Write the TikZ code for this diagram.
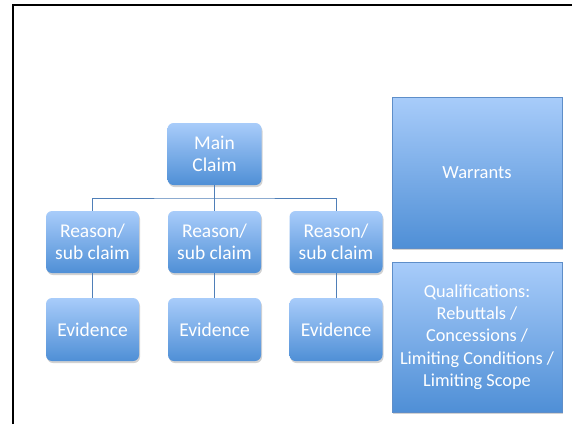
\documentclass[tikz,border=0pt]{standalone}
\usepackage{fontspec}
\setmainfont{Carlito}
\usetikzlibrary{shadows,calc}
\definecolor{boxtop}{HTML}{A8CCFA}
\definecolor{boxbot}{HTML}{4F8FD6}
\definecolor{boxedge}{HTML}{5E8EC9}
\definecolor{linkc}{HTML}{4F7FB8}
\tikzset{
  base/.style={align=center, text=white, font=\fontsize{19.5}{21.7}\selectfont,
    top color=boxtop, bottom color=boxbot, inner sep=0pt,
    drop shadow={opacity=0.35, shadow xshift=1pt, shadow yshift=-2pt}},
  rbox/.style={base, rounded corners=6pt, minimum width=93pt, minimum height=62pt},
  sqbox/.style={base, draw=boxedge, line width=0.8pt, minimum width=170pt, minimum height=150pt},
  link/.style={draw=linkc, line width=1pt}
}
\begin{document}
\begin{tikzpicture}[x=1pt,y=-1pt]
\useasboundingbox (0,0) rectangle (572,424);
\fill[white] (0,0) rectangle (572,424);
\draw[line width=2pt] (13,424) -- (13,5) -- (572,5);

\node[rbox, minimum width=94pt] (main) at (214.5,154) {Main\\Claim};
\node[rbox] (r1) at (92.5,242) {Reason/\\sub claim};
\node[rbox] (r2) at (214.5,242) {Reason/\\sub claim};
\node[rbox] (r3) at (336,242) {Reason/\\sub claim};
\node[rbox, minimum height=63pt] (e1) at (92.5,329.5) {Evidence};
\node[rbox, minimum height=63pt] (e2) at (214.5,329.5) {Evidence};
\node[rbox, minimum height=63pt] (e3) at (336,329.5) {Evidence};

\node[sqbox, minimum height=151pt, font=\fontsize{18.5}{22.3}\selectfont] (war) at (477,172.5) {Warrants};
\node[sqbox, font=\fontsize{18.3}{22.3}\selectfont] (qual) at (477,337) {Qualifications:\\Rebuttals /\\Concessions /\\Limiting Conditions /\\Limiting Scope};

\coordinate (bar) at ($(main.south)!0.5!(r2.north)$);
\draw[link] (main.south) -- (r2.north);
\draw[link] (r1.north) |- (bar) -| (r3.north);
\draw[link] (r1.south) -- (e1.north);
\draw[link] (r2.south) -- (e2.north);
\draw[link] (r3.south) -- (e3.north);
\end{tikzpicture}
\end{document}
